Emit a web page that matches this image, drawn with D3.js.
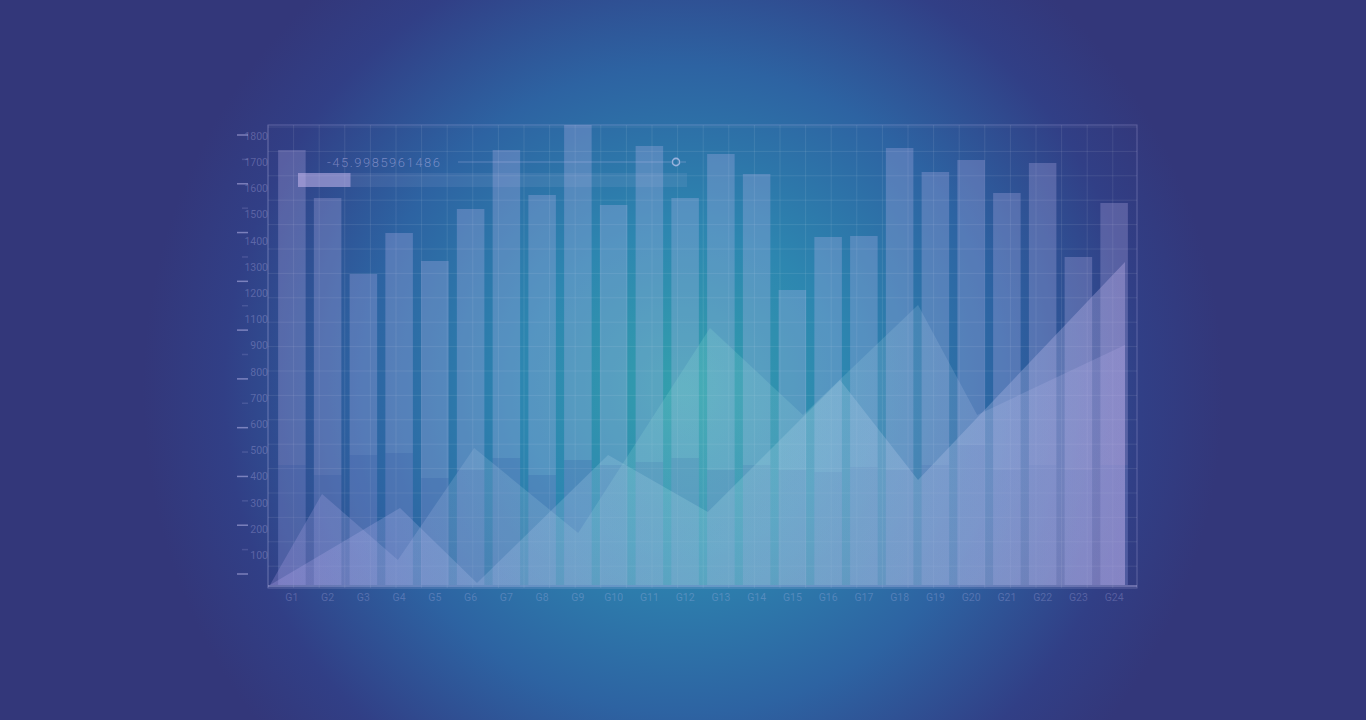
<!DOCTYPE html>
<html>
<head>
<meta charset="utf-8">
<script src="https://cdn.jsdelivr.net/npm/d3@7/dist/d3.min.js"></script>
<style>
html,body{margin:0;padding:0;background:#33377a;overflow:hidden;}
svg{display:block;}
</style>
</head>
<body>
<svg id="chart" width="1366" height="720"></svg>
<script>
// ---- data ----
const categories = ["G1","G2","G3","G4","G5","G6","G7","G8","G9","G10","G11","G12","G13","G14","G15","G16","G17","G18","G19","G20","G21","G22","G23","G24"];
const barValues  = [1740,1548,1244,1408,1296,1504,1740,1560,1840,1520,1756,1548,1724,1644,1180,1392,1396,1748,1652,1700,1568,1688,1312,1528];
const baseValues = [480,440,520,528,428,460,508,440,500,480,492,508,460,480,460,452,472,460,480,560,460,480,460,480];
const yTickLabels = ["1800","1700","1600","1500","1400","1300","1200","1100","900","800","700","600","500","400","300","200","100"];
const areaAX = [0,1.46,3.59,5.73,8.65,12.35,14.96,18.19,19.85,24];
const areaAY = [0,364,100,548,208,1028,680,1120,680,960];
const areaBX = [0,3.65,5.81,9.49,12.29,16.0,18.19,24];
const areaBY = [0,308,8,520,292,820,420,1292];
const sliderLabel = "-45.9985961486";
const sliderFraction = 0.135;

// ---- layout ----
const svg = d3.select("#chart");
const W = 1366, H = 720;
const frame = {x0:268, x1:1137, y0:125, y1:588};

const defs = svg.append("defs");
const bg = defs.append("radialGradient").attr("id","bg")
  .attr("gradientUnits","userSpaceOnUse").attr("cx",683).attr("cy",390).attr("r",540)
  .attr("fx",683).attr("fy",390);
[[0,"#33a0ad"],[0.3,"#2d86b0"],[0.6,"#2d63a2"],[0.85,"#313f86"],[1,"#33377a"]]
  .forEach(([o,c])=>bg.append("stop").attr("offset",o).attr("stop-color",c));

const gA = defs.append("linearGradient").attr("id","gA").attr("x1","0").attr("x2","1").attr("y1","0").attr("y2","0");
[[0,"#b0a0e8",0.26],[0.5,"#88dcd4",0.22],[1,"#c0b0f0",0.2]]
  .forEach(([o,c,a])=>gA.append("stop").attr("offset",o).attr("stop-color",c).attr("stop-opacity",a));
const gB = defs.append("linearGradient").attr("id","gB").attr("x1","0").attr("x2","1").attr("y1","0").attr("y2","0");
[[0,"#b8a8f0",0.26],[0.5,"#a4dce4",0.24],[1,"#c8b8f0",0.33]]
  .forEach(([o,c,a])=>gB.append("stop").attr("offset",o).attr("stop-color",c).attr("stop-opacity",a));

svg.append("rect").attr("width",W).attr("height",H).attr("fill","url(#bg)");

// scales
const x = d3.scaleBand().domain(categories).range([274,1132]).paddingInner(0.23).paddingOuter(0.115);
const y = d3.scaleLinear().domain([0,1840]).range([585,125]);
const xa = d3.scaleLinear().domain([0,24]).range([270,1125]);
const yLab = d3.scalePoint().domain(yTickLabels).range([136,555]);

// grid
const grid = svg.append("g").attr("stroke","#ffffff").attr("stroke-opacity",0.09).attr("stroke-width",1);
d3.range(0,35).forEach(k=>{
  const gx = frame.x0 + k*25.6;
  if (gx<=frame.x1) grid.append("line").attr("x1",gx).attr("x2",gx).attr("y1",frame.y0).attr("y2",frame.y1);
});
d3.range(0,20).forEach(k=>{
  const gy = 127 + k*24.4;
  if (gy<=frame.y1) grid.append("line").attr("x1",frame.x0).attr("x2",frame.x1).attr("y1",gy).attr("y2",gy);
});

// bars
svg.append("g").selectAll("rect").data(categories).join("rect")
  .attr("x",d=>x(d)).attr("width",x.bandwidth())
  .attr("y",(d,i)=>y(barValues[i])).attr("height",(d,i)=>y(0)-y(barValues[i]))
  .attr("fill","#c8bff5").attr("fill-opacity",0.26);
svg.append("g").selectAll("rect").data(categories).join("rect")
  .attr("x",d=>x(d)).attr("width",x.bandwidth())
  .attr("y",(d,i)=>y(baseValues[i])).attr("height",(d,i)=>y(0)-y(baseValues[i]))
  .attr("fill","#1d4a9a").attr("fill-opacity",0.16);

// areas
const areaA = d3.area().x(d=>xa(d[0])).y0(y(0)).y1(d=>y(d[1]));
svg.append("path").datum(areaAX.map((v,i)=>[v,areaAY[i]])).attr("d",areaA).attr("fill","url(#gA)");
svg.append("path").datum(areaBX.map((v,i)=>[v,areaBY[i]])).attr("d",areaA).attr("fill","url(#gB)");

// frame
svg.append("rect").attr("x",frame.x0).attr("y",frame.y0).attr("width",frame.x1-frame.x0).attr("height",frame.y1-frame.y0)
  .attr("fill","none").attr("stroke","#c8c0f0").attr("stroke-opacity",0.3).attr("stroke-width",1);
svg.append("line").attr("x1",frame.x0).attr("x2",frame.x1).attr("y1",586).attr("y2",586)
  .attr("stroke","#d0c8f5").attr("stroke-opacity",0.35).attr("stroke-width",2);

// y tick dashes
const dashY = d3.scaleLinear().domain([0,18]).range([135,574]);
svg.append("g").selectAll("line").data(d3.range(19)).join("line")
  .attr("x1",d=>d%2===0?237:242).attr("x2",248)
  .attr("y1",d=>dashY(d)).attr("y2",d=>dashY(d))
  .attr("stroke","#d8d0ff").attr("stroke-opacity",d=>d%2===0?0.45:0.15).attr("stroke-width",1.5);

// y labels
const yAxis = svg.append("g").attr("transform",`translate(${frame.x0+1},0)`)
  .call(d3.axisLeft(yLab).tickSize(0).tickPadding(1));
yAxis.select(".domain").remove();
yAxis.selectAll("text").attr("fill","#d0c8f8").attr("fill-opacity",0.28)
  .style("font-family","Roboto, sans-serif").style("font-size","10.5px");

// x labels
const xAxis = svg.append("g").attr("transform","translate(0,588)")
  .call(d3.axisBottom(x).tickSize(0).tickPadding(6));
xAxis.select(".domain").remove();
xAxis.selectAll("text").attr("fill","#d0c8f8").attr("fill-opacity",0.25)
  .style("font-family","Roboto, sans-serif").style("font-size","10.5px");

// slider widget
const sl = svg.append("g");
sl.append("text").attr("x",327).attr("y",167).text(sliderLabel)
  .attr("fill","#d0c8f8").attr("fill-opacity",0.45)
  .style("font-family","Roboto, sans-serif").style("font-weight",300).style("font-size","13px").style("letter-spacing","1.5px");
sl.append("line").attr("x1",458).attr("x2",671).attr("y1",162).attr("y2",162)
  .attr("stroke","#d0c8f8").attr("stroke-opacity",0.3).attr("stroke-width",1);
sl.append("line").attr("x1",681).attr("x2",686).attr("y1",162).attr("y2",162)
  .attr("stroke","#d0c8f8").attr("stroke-opacity",0.3).attr("stroke-width",1);
sl.append("circle").attr("cx",676).attr("cy",162).attr("r",3.6)
  .attr("fill","none").attr("stroke","#e0d8ff").attr("stroke-opacity",0.6).attr("stroke-width",1.6);
const trackX = d3.scaleLinear().domain([0,1]).range([298,687]);
sl.append("rect").attr("x",trackX(0)).attr("y",173).attr("width",trackX(1)-trackX(0)).attr("height",14)
  .attr("fill","#c8c0f0").attr("fill-opacity",0.1);
sl.append("rect").attr("x",trackX(0)).attr("y",173).attr("width",trackX(sliderFraction)-trackX(0)).attr("height",14)
  .attr("fill","#c8b8f0").attr("fill-opacity",0.5);
</script>
</body>
</html>
